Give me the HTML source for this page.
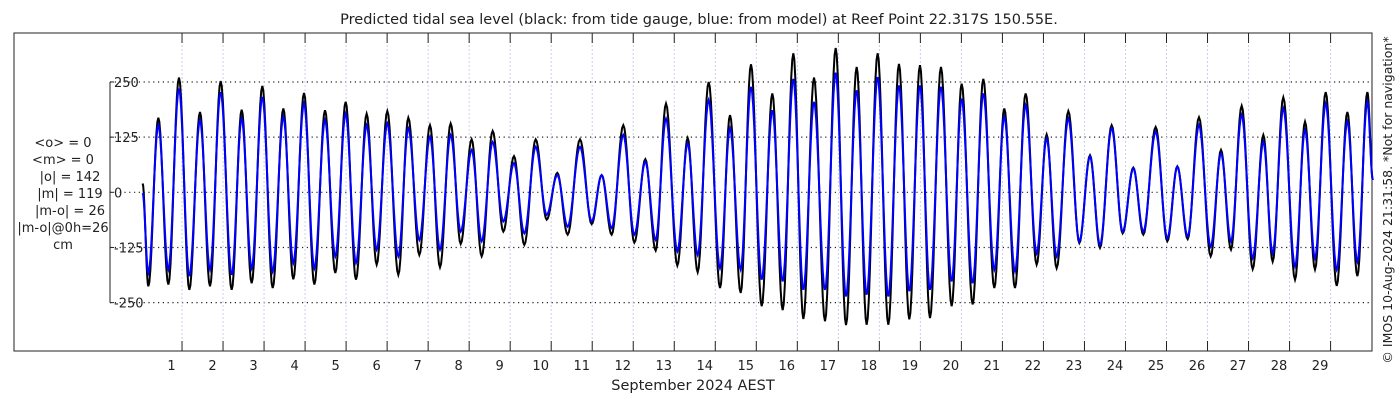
<!DOCTYPE html>
<html><head><meta charset="utf-8"><style>
body{margin:0;background:#fff;}
svg text{font-family:"DejaVu Sans","Liberation Sans",sans-serif;}
</style></head><body>
<svg id="chart" width="1400" height="400" xmlns="http://www.w3.org/2000/svg">
<rect width="1400" height="400" fill="#fff"/>
<text x="699" y="24" font-size="14.5" text-anchor="middle" fill="#222">Predicted tidal sea level (black: from tide gauge, blue: from model) at Reef Point 22.317S 150.55E.</text>
<rect x="14" y="33" width="1358" height="318" fill="none" stroke="#222" stroke-width="1"/>
<g id="grid"></g>
<g id="axes"></g>
<g id="series"></g>
<g font-size="13" fill="#222" text-anchor="middle">
<text x="63" y="147">&lt;o&gt; = 0</text>
<text x="63" y="164">&lt;m&gt; = 0</text>
<text x="70" y="181">|o| = 142</text>
<text x="70" y="198">|m| = 119</text>
<text x="70" y="215">|m-o| = 26</text>
<text x="63" y="232">|m-o|@0h=26</text>
<text x="63" y="249">cm</text>
</g>
<text x="693" y="390" font-size="14.5" text-anchor="middle" fill="#222">September 2024 AEST</text>
<text transform="translate(1392,200) rotate(-90)" font-size="12.5" text-anchor="middle" fill="#222">© IMOS 10-Aug-2024 21:31:58. *Not for navigation*</text>
</svg>
<script>
const dayLabels=[1,2,3,4,5,6,7,8,9,10,11,12,13,14,15,16,17,18,19,20,21,22,23,24,25,26,27,28,29];
const yTicks=[250,125,0,-125,-250];
const times=[0.04,0.179,0.423,0.667,0.926,1.178,1.438,1.682,1.942,2.210,2.454,2.698,2.958,3.210,3.470,3.713,3.974,4.226,4.486,4.737,4.989,5.241,5.501,5.745,6.005,6.273,6.517,6.785,
7.045,7.289,7.549,7.794,8.061,8.305,8.573,8.833,9.093,9.345,9.622,9.890,10.149,10.401,10.702,10.986,11.230,11.474,11.758,12.027,12.295,12.547,12.799,13.075,13.327,13.571,13.839,14.115,14.359,14.619,
14.871,15.131,15.391,15.643,15.903,16.147,16.407,16.675,16.935,17.187,17.447,17.690,17.958,18.218,18.478,18.730,18.990,19.234,19.502,19.762,20.006,20.274,20.534,20.802,21.046,21.306,21.566,21.834,22.078,22.322,22.607,
22.875,23.135,23.379,23.663,23.931,24.191,24.435,24.736,25.020,25.264,25.516,25.792,26.077,26.329,26.572,26.833,27.101,27.361,27.588,27.848,28.133,28.377,28.620,28.881,29.149,29.409,29.653,29.897,30.03];
const gauge=[20,-213,169,-209,260,-221,182,-213,252,-221,187,-206,241,-217,190,-197,225,-209,186,-183,205,-198,178,-164,184,-187,169,-142,
152,-170,156,-117,120,-145,139,-89,82,-119,120,-62,44,-96,120,-72,39,-96,152,-114,75,-132,201,-166,123,-181,250,-217,175,-228,
290,-258,224,-267,315,-287,260,-292,327,-301,284,-300,315,-300,291,-288,288,-285,284,-258,246,-254,257,-217,190,-217,224,-164,131,-172,184,
-115,84,-126,152,-93,56,-96,148,-111,59,-106,170,-145,96,-130,196,-174,130,-157,215,-198,160,-175,227,-212,182,-190,227,28];
const model=[-2,-183,152,-175,235,-190,163,-175,227,-187,167,-172,216,-179,171,-160,201,-172,163,-145,178,-160,152,-130,156,-145,145,-108,
126,-130,130,-89,96,-111,114,-66,66,-93,103,-51,39,-78,103,-66,39,-81,130,-96,69,-108,167,-134,111,-142,209,-172,145,-175,
239,-198,186,-202,257,-221,205,-221,271,-236,231,-232,261,-236,242,-224,242,-221,239,-202,212,-206,224,-175,171,-179,197,-138,122,-145,167,
-111,81,-119,145,-89,54,-89,137,-104,58,-100,152,-123,88,-111,175,-149,114,-138,190,-168,141,-149,201,-175,160,-157,205,28];
const X0=141,XS=41.02,Y0=192.3,YS=0.4413;
const xs=t=>X0+t*XS, ys=v=>Y0-v*YS;
const NS="http://www.w3.org/2000/svg";
const grid=document.getElementById('grid'),axes=document.getElementById('axes'),ser=document.getElementById('series');
function mk(tag,attrs,parent){const e=document.createElementNS(NS,tag);for(const k in attrs)e.setAttribute(k,attrs[k]);parent.appendChild(e);return e;}
yTicks.forEach(v=>{
  const l=mk('line',{x1:110,x2:1372,y1:ys(v),y2:ys(v),stroke:'#222','stroke-width':1.2,'stroke-dasharray':'1.2 3.6'},grid);
  
  
  const tk=mk('line',{x1:110,x2:114,y1:ys(v),y2:ys(v),stroke:'#222'},axes);
  
  
  const tx=mk('text',{x:114,y:ys(v)+5,'font-size':13,fill:'#222'},axes);
  tx.textContent=String(v);
  
  
});
const ya=mk('line',{x1:110,x2:110,y1:ys(250),y2:ys(-250),stroke:'#222'},axes);


for(let d=1;d<=29;d++){
  const x=xs(d);
  const g=mk('line',{x1:x,x2:x,y1:33,y2:351,stroke:'#c8d0f0','stroke-width':1,'stroke-dasharray':'2 2'},grid);
  
  
  const t1=mk('line',{x1:x,x2:x,y1:341,y2:351,stroke:'#222'},axes);
  
  
  const t2=mk('line',{x1:x,x2:x,y1:33,y2:43,stroke:'#222'},axes);
  
  
}
dayLabels.forEach((d,i)=>{
  const tx=mk('text',{x:xs(d)-10.5,y:370,'font-size':13,'text-anchor':'middle',fill:'#222'},axes);
  tx.textContent=String(d);
  
  
});
function pathFor(vals){
  let d='M'+xs(times[0]).toFixed(2)+','+ys(vals[0]).toFixed(2);
  for(let i=0;i<times.length-1;i++){
    const t0=times[i],t1=times[i+1],v0=vals[i],v1=vals[i+1];
    for(let s=1;s<=10;s++){const f=s/10;const w=(1-Math.cos(Math.PI*f))/2;
      d+='L'+xs(t0+(t1-t0)*f).toFixed(2)+','+ys(v0+(v1-v0)*w).toFixed(2);}
  }
  return d;
}
const pg=mk('path',{d:pathFor(gauge),fill:'none',stroke:'#000','stroke-width':2},ser);


const pm=mk('path',{d:pathFor(model),fill:'none',stroke:'#0000ff','stroke-width':2},ser);


</script>
</body></html>
